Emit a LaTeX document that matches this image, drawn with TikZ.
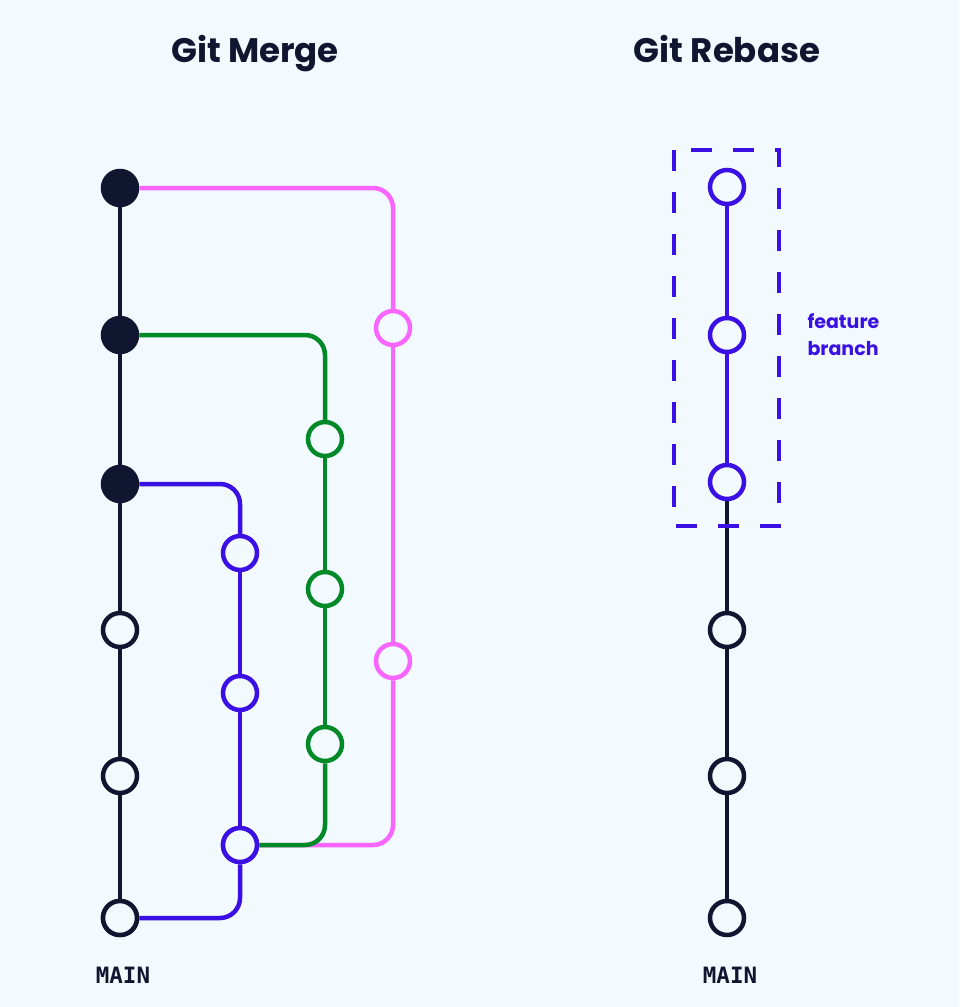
\documentclass[tikz,border=0pt]{standalone}
\usepackage{fontspec}
\setmainfont{Poppins}
\newfontfamily\monofont{DejaVu Sans Mono}
\definecolor{bgc}{HTML}{F2F9FF}
\definecolor{navy}{HTML}{10162F}
\definecolor{hyper}{HTML}{3A10E5}
\definecolor{grn}{HTML}{008A27}
\definecolor{pnk}{HTML}{F966FF}
\tikzset{
  commit/.style={circle, draw=#1, fill=bgc, line width=4.5pt, minimum size=34pt, inner sep=0pt},
  headc/.style={circle, draw=navy, fill=navy, line width=4.5pt, minimum size=34pt, inner sep=0pt},
  branch/.style={draw=#1, line width=4.5pt, rounded corners=20pt},
  title/.style={font=\bfseries\fontsize{34}{40}\selectfont, text=navy, anchor=base},
  mainlbl/.style={font=\monofont\bfseries\fontsize{22.5}{26}\selectfont, text=navy},
}
\begin{document}
\begin{tikzpicture}[x=1pt,y=-1pt]
\useasboundingbox[fill=bgc] (0,0) rectangle (959,1007);
% titles
\node[title] (tm) at (255,62) {Git Merge};
\node[title] (tr) at (727,62) {Git Rebase};
% merge side nodes
\node[headc] (m1) at (120,188) {};
\node[headc] (m2) at (120,335) {};
\node[headc] (m3) at (120,484) {};
\node[commit=navy] (m4) at (120,630) {};
\node[commit=navy] (m5) at (120,776) {};
\node[commit=navy] (m6) at (120,918) {};
\node[commit=hyper] (b1) at (240,553) {};
\node[commit=hyper] (b2) at (240,693) {};
\node[commit=hyper] (b3) at (240,845) {};
\node[commit=grn] (g1) at (325,439) {};
\node[commit=grn] (g2) at (325,589) {};
\node[commit=grn] (g3) at (325,744) {};
\node[commit=pnk] (p1) at (393,328) {};
\node[commit=pnk] (p2) at (393,661) {};
% main line
\draw[branch=navy] (m1) -- (m2) -- (m3) -- (m4) -- (m5) -- (m6);
% pink
\draw[branch=pnk] (m1.east) -| (p1.north);
\draw[branch=pnk] (p1) -- (p2);
\draw[branch=pnk] (p2.south) |- (b3.east);
% green
\draw[branch=grn] (m2.east) -| (g1.north);
\draw[branch=grn] (g1) -- (g2) -- (g3);
\draw[branch=grn] (g3.south) |- (b3.east);
% purple
\draw[branch=hyper] (m3.east) -| (b1.north);
\draw[branch=hyper] (b1) -- (b2) -- (b3);
\draw[branch=hyper] (b3.south) |- (m6.east);
% redraw nodes on top
\node[commit=hyper] at (b3) {};
\node[commit=navy] at (m6) {};
\node[mainlbl] (ml) at (123,975) {MAIN};
% rebase side
\node[commit=hyper] (r1) at (727,187) {};
\node[commit=hyper] (r2) at (727,335) {};
\node[commit=hyper] (r3) at (727,482) {};
\node[commit=navy] (r4) at (727,630) {};
\node[commit=navy] (r5) at (727,776) {};
\node[commit=navy] (r6) at (727,918) {};
\draw[branch=hyper] (r1) -- (r2) -- (r3);
\draw[branch=navy] (r3) -- (r4) -- (r5) -- (r6);
\draw[draw=hyper, line width=4.5pt, dash pattern=on 21pt off 21pt] (674,150) rectangle (779,526);
\node[font=\bfseries\fontsize{19}{27}\selectfont, text=hyper, align=left, anchor=west] (fb) at (804,335) {feature\\branch};
\node[mainlbl] (mr) at (730,975) {MAIN};
\end{tikzpicture}
\end{document}
